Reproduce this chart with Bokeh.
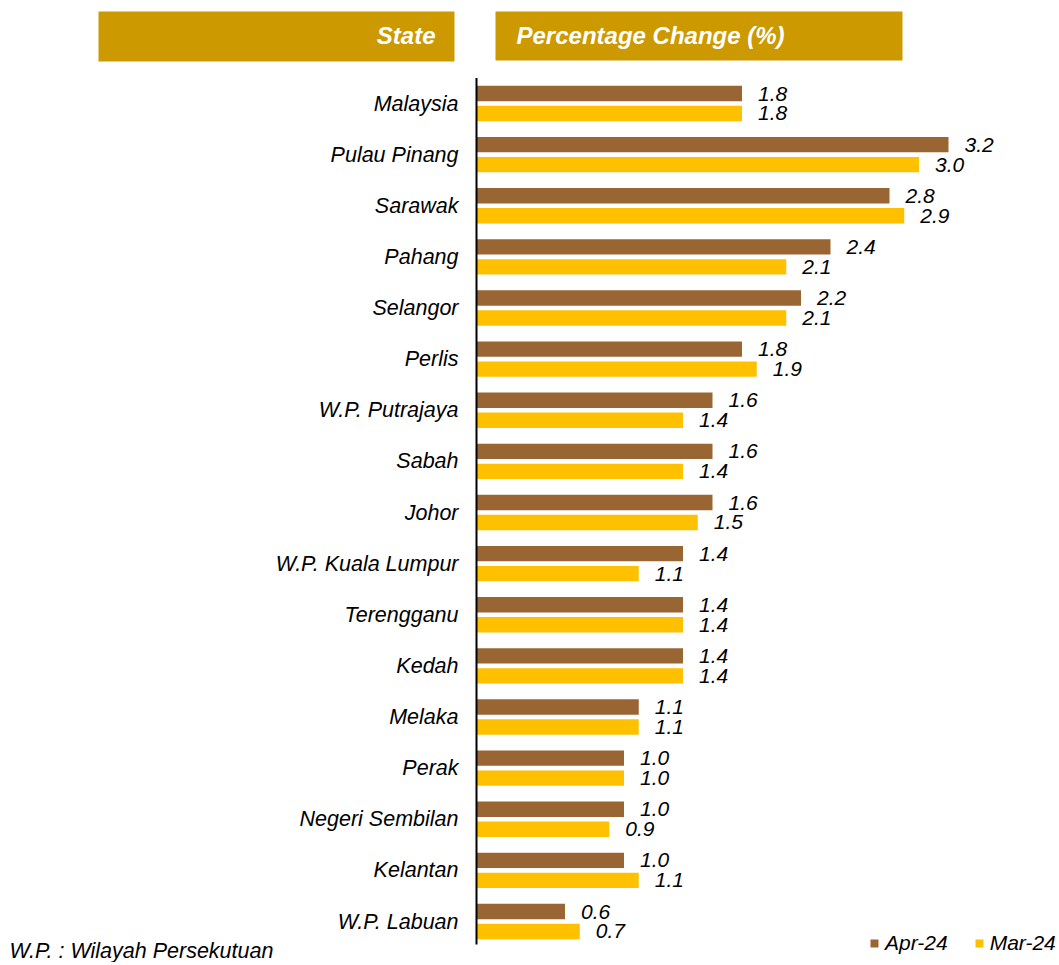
from bokeh.plotting import figure
from bokeh.models import ColumnDataSource, Range1d, Legend, LegendItem
from bokeh.transform import dodge
from bokeh.embed import file_html
from bokeh.resources import INLINE
from bokeh.core.properties import value

states = ["Malaysia", "Pulau Pinang", "Sarawak", "Pahang", "Selangor", "Perlis",
          "W.P. Putrajaya", "Sabah", "Johor", "W.P. Kuala Lumpur", "Terengganu",
          "Kedah", "Melaka", "Perak", "Negeri Sembilan", "Kelantan", "W.P. Labuan"]
apr24 = [1.8, 3.2, 2.8, 2.4, 2.2, 1.8, 1.6, 1.6, 1.6, 1.4, 1.4, 1.4, 1.1, 1.0, 1.0, 1.0, 0.6]
mar24 = [1.8, 3.0, 2.9, 2.1, 2.1, 1.9, 1.4, 1.4, 1.5, 1.1, 1.4, 1.4, 1.1, 1.0, 0.9, 1.1, 0.7]
series_names = ["Apr-24", "Mar-24"]
header_texts = ["State", "Percentage Change (%)"]
footnote = "W.P. : Wilayah Persekutuan"

FONT = "Liberation Sans"
BROWN = "#996633"
YELLOW = "#FFC000"
GOLD = "#CC9900"
W, H = 1056, 962

# layout constants (canvas pixels)
axis_x = 476          # x pixel of the value 0
px_per_unit = 147.5   # pixels per percentage point
row0_y = 103          # y pixel (from top) of the first row's centre
row_h = 51.125        # pixels per row

x_start = -axis_x / px_per_unit
x_end = (W - axis_x) / px_per_unit
y_top = -row0_y / row_h
y_bottom = (H - row0_y) / row_h

p = figure(width=W, height=H, x_range=Range1d(x_start, x_end),
           y_range=Range1d(y_bottom, y_top), output_backend="svg",
           toolbar_location=None, min_border=0)
p.extra_x_ranges = {"px": Range1d(0, W)}
p.extra_y_ranges = {"px": Range1d(H, 0)}
p.axis.visible = False
p.grid.visible = False
p.outline_line_color = None

src = ColumnDataSource(dict(
    state=states, row=list(range(len(states))), apr=apr24, mar=mar24,
    apr_lbl=[f"{v:.1f}" for v in apr24], mar_lbl=[f"{v:.1f}" for v in mar24]))

# header boxes
p.quad(left=[98, 495], right=[454, 902], top=[11, 11], bottom=[61, 60],
       fill_color=GOLD, line_color=None, x_range_name="px", y_range_name="px")
p.text(x=[435], y=[35], text=[header_texts[0]], text_align="right",
       text_baseline="middle", text_font=value(FONT), text_font_style="bold italic",
       text_font_size="24px", text_color="white", x_range_name="px", y_range_name="px")
p.text(x=[516], y=[35], text=[header_texts[1]], text_align="left",
       text_baseline="middle", text_font=value(FONT), text_font_style="bold italic",
       text_font_size="24px", text_color="white", x_range_name="px", y_range_name="px")

# bars
off = 0.195
bh = 0.3
r_apr = p.hbar(y=dodge("row", -off), right="apr", left=0, height=bh,
               source=src, fill_color=BROWN, line_color=None)
r_mar = p.hbar(y=dodge("row", off), right="mar", left=0, height=bh,
               source=src, fill_color=YELLOW, line_color=None)

# value labels
for col, lbl, o in (("apr", "apr_lbl", -off), ("mar", "mar_lbl", off)):
    p.text(x=col, y=dodge("row", o), text=lbl, source=src,
           x_offset=16, text_align="left", text_baseline="middle",
           text_font=value(FONT), text_font_style="italic", text_font_size="21px",
           text_color="black")

# category axis
p.segment(x0=[0], x1=[0], y0=[-0.5], y1=[len(states) - 0.55],
          line_color="black", line_width=2)
p.text(x=0, y="row", text="state", source=src, x_offset=-18,
       text_align="right", text_baseline="middle", text_font=value(FONT),
       text_font_style="italic", text_font_size="21.5px", text_color="black")

# footnote
p.text(x=[9], y=[950], text=[footnote], text_align="left", text_baseline="middle",
       text_font=value(FONT), text_font_style="italic", text_font_size="21.5px",
       text_color="black", x_range_name="px", y_range_name="px")

legend = Legend(items=[LegendItem(label=series_names[0], renderers=[r_apr]),
                       LegendItem(label=series_names[1], renderers=[r_mar])],
                location=(869, 7), orientation="horizontal",
                glyph_width=10, glyph_height=10, label_standoff=6, spacing=26,
                padding=0, margin=0, border_line_color=None, background_fill_alpha=0,
                label_text_font=FONT, label_text_font_style="italic",
                label_text_font_size="21px", label_text_color="black")
p.add_layout(legend)

open("out.html", "w").write(file_html(p, INLINE))
